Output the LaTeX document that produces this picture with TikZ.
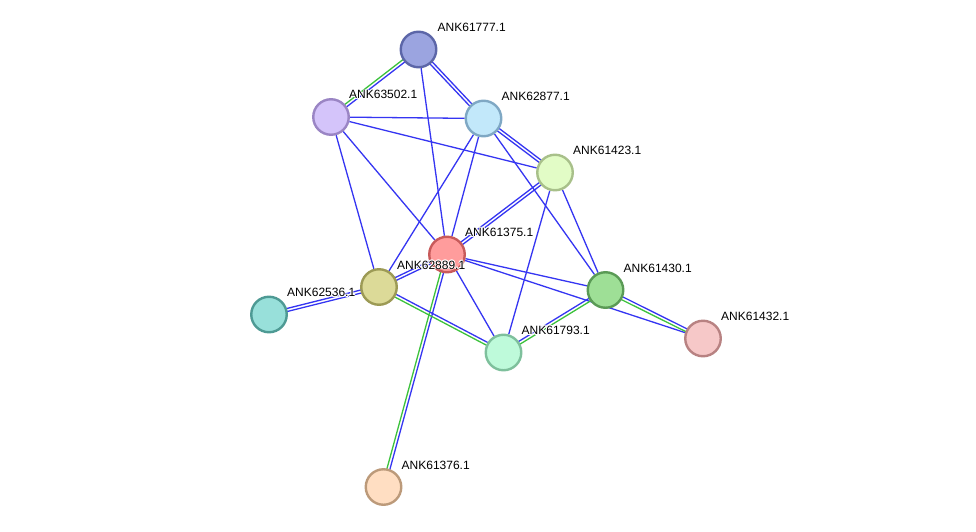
\documentclass[tikz,border=0pt]{standalone}
\usepackage{fontspec}
\setmainfont{Liberation Sans}
\usetikzlibrary{calc,backgrounds}
\definecolor{eblue}{HTML}{3535F2}
\definecolor{egreen}{HTML}{3CC23C}
\newcommand{\edgeS}[2]{\draw[eb] (#1) -- (#2);}
\newcommand{\edgeD}[4]{\draw[#3] ($(#1)!1.5pt!90:(#2)$) -- ($(#2)!1.5pt!-90:(#1)$); \draw[#4] ($(#1)!1.5pt!-90:(#2)$) -- ($(#2)!1.5pt!90:(#1)$);}
\newcommand{\hcopy}[3]{\rlap{\kern#1\raisebox{#2}{\color{white}#3}}}
\newcommand{\halo}[1]{\leavevmode\hcopy{0.9pt}{0pt}{#1}\hcopy{-0.9pt}{0pt}{#1}\hcopy{0pt}{0.9pt}{#1}\hcopy{0pt}{-0.9pt}{#1}\hcopy{0.65pt}{0.65pt}{#1}\hcopy{-0.65pt}{0.65pt}{#1}\hcopy{0.65pt}{-0.65pt}{#1}\hcopy{-0.65pt}{-0.65pt}{#1}#1}
\begin{document}
\begin{tikzpicture}[x=1pt,y=-1pt,
  prot/.style={circle,minimum size=35.5pt,inner sep=0pt,line width=2.4pt},
  lbl/.style={anchor=base west,inner sep=0pt,font=\fontsize{12}{14}\selectfont},
  eb/.style={draw=eblue,line width=1.3pt},
  eg/.style={draw=egreen,line width=1.3pt}]
\useasboundingbox (0,0) rectangle (976,532);
% nodes
\node[prot,fill={rgb,255:red,155;green,164;blue,224},draw={rgb,255:red,92;green,102;blue,168}] (n61777) at (418.5,49.5) {};
\node[prot,fill={rgb,255:red,212;green,196;blue,250},draw={rgb,255:red,154;green,133;blue,196}] (n63502) at (331,117) {};
\node[prot,fill={rgb,255:red,194;green,232;blue,250},draw={rgb,255:red,127;green,168;blue,196}] (n62877) at (483.5,118.5) {};
\node[prot,fill={rgb,255:red,226;green,252;blue,198},draw={rgb,255:red,168;green,192;blue,138}] (n61423) at (555,172.5) {};
\node[prot,fill={rgb,255:red,255;green,156;blue,156},draw={rgb,255:red,200;green,90;blue,90}] (n61375) at (447,254.5) {};
\node[prot,fill={rgb,255:red,220;green,218;blue,152},draw={rgb,255:red,156;green,154;blue,85}] (n62889) at (379,287) {};
\node[prot,fill={rgb,255:red,152;green,224;blue,218},draw={rgb,255:red,78;green,154;blue,148}] (n62536) at (269,314.5) {};
\node[prot,fill={rgb,255:red,158;green,223;blue,150},draw={rgb,255:red,90;green,154;blue,85}] (n61430) at (605.5,290) {};
\node[prot,fill={rgb,255:red,246;green,200;blue,200},draw={rgb,255:red,184;green,130;blue,130}] (n61432) at (703,338.5) {};
\node[prot,fill={rgb,255:red,190;green,250;blue,218},draw={rgb,255:red,126;green,192;blue,156}] (n61793) at (503.5,352.5) {};
\node[prot,fill={rgb,255:red,255;green,222;blue,194},draw={rgb,255:red,188;green,154;blue,122}] (n61376) at (383.5,487) {};
% edges
\begin{pgfonlayer}{background}
\fill[white] (0,0) rectangle (976,532);
\edgeS{n61777}{n61375}
\edgeS{n63502}{n62877}
\edgeS{n63502}{n61423}
\edgeS{n63502}{n62889}
\edgeS{n63502}{n61375}
\edgeS{n62877}{n62889}
\edgeS{n62877}{n61375}
\edgeS{n62877}{n61430}
\edgeS{n61423}{n61793}
\edgeS{n61423}{n61430}
\edgeS{n61375}{n61430}
\edgeS{n61375}{n61432}
\edgeS{n61375}{n61793}
\edgeD{n61777}{n62877}{eb}{eb}
\edgeD{n62877}{n61423}{eb}{eb}
\edgeD{n61423}{n61375}{eb}{eb}
\edgeD{n61375}{n62889}{eb}{eb}
\edgeD{n62889}{n62536}{eb}{eb}
\edgeD{n61777}{n63502}{eb}{eg}
\edgeD{n61375}{n61376}{eb}{eg}
\edgeD{n62889}{n61793}{eb}{eg}
\edgeD{n61793}{n61430}{eb}{eg}
\edgeD{n61430}{n61432}{eb}{eg}
\end{pgfonlayer}
% labels
\node[lbl] (l61777) at ($(n61777)+(19,-18)$) {\halo{ANK61777.1}};
\node[lbl] (l63502) at ($(n63502)+(18,-18)$) {\halo{ANK63502.1}};
\node[lbl] (l62877) at ($(n62877)+(18,-18)$) {\halo{ANK62877.1}};
\node[lbl] (l61423) at ($(n61423)+(18,-18)$) {\halo{ANK61423.1}};
\node[lbl] (l61375) at ($(n61375)+(18,-18)$) {\halo{ANK61375.1}};
\node[lbl] (l62889) at ($(n62889)+(18,-18)$) {\halo{ANK62889.1}};
\node[lbl] (l62536) at ($(n62536)+(18,-18)$) {\halo{ANK62536.1}};
\node[lbl] (l61430) at ($(n61430)+(18,-18)$) {\halo{ANK61430.1}};
\node[lbl] (l61432) at ($(n61432)+(18,-18)$) {\halo{ANK61432.1}};
\node[lbl] (l61793) at ($(n61793)+(18,-18)$) {\halo{ANK61793.1}};
\node[lbl] (l61376) at ($(n61376)+(18,-18)$) {\halo{ANK61376.1}};
\end{tikzpicture}
\end{document}
